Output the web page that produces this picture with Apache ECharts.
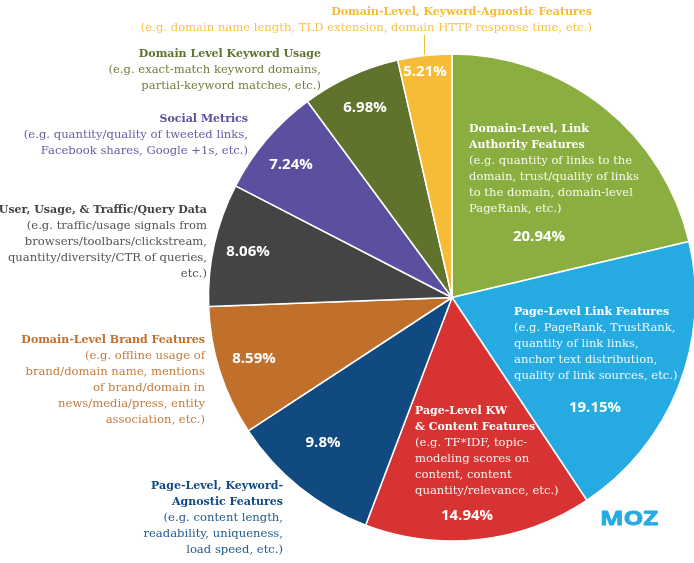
<!DOCTYPE html>
<html lang="en">
<head>
    <meta charset="UTF-8">
    <title>Search ranking factors</title>
    <script src="https://cdn.jsdelivr.net/npm/echarts@6/dist/echarts.min.js"></script>
    <style>
        html, body { margin: 0; padding: 0; background: #fff; }
        #main { width: 694px; height: 563px; }
    </style>
</head>
<body>
<div id="main"></div>
<script type="text/javascript">
// slice names, printed percentages and slice sizes as measured from the drawn wedges
// (the printed numbers add up to 100.91 and do not match the wedges exactly)
var names = ['Domain-Level, Link Authority', 'Page-Level Link', 'Page-Level KW & Content', 'Page-Level, Keyword-Agnostic',
    'Domain-Level Brand', 'User, Usage, & Traffic/Query', 'Social Metrics', 'Domain Level Keyword Usage', 'Domain-Level, Keyword-Agnostic'];
var printed = ['20.94%', '19.15%', '14.94%', '9.8%', '8.59%', '8.06%', '7.24%', '6.98%', '5.21%'];
var shares = [21.3, 19.36, 15.11, 10, 8.64, 8.17, 7.31, 6.53, 3.58];
var colors = ['#8bae41', '#25abe2', '#d73333', '#104a80', '#c0702b', '#444444', '#5b4fa0', '#5f732d', '#f6bc38'];

var titles = [
    ['Domain-Level, Link', 'Authority Features'],
    ['Page-Level Link Features'],
    ['Page-Level KW', '& Content Features'],
    ['Page-Level, Keyword-', 'Agnostic Features'],
    ['Domain-Level Brand Features'],
    ['User, Usage, & Traffic/Query Data'],
    ['Social Metrics'],
    ['Domain Level Keyword Usage'],
    ['Domain-Level, Keyword-Agnostic Features']
];
var details = [
    ['(e.g. quantity of links to the', 'domain, trust/quality of links', 'to the domain, domain-level', 'PageRank, etc.)'],
    ['(e.g. PageRank, TrustRank,', 'quantity of link links,', 'anchor text distribution,', 'quality of link sources, etc.)'],
    ['(e.g. TF*IDF, topic-', 'modeling scores on', 'content, content', 'quantity/relevance, etc.)'],
    ['(e.g. content length,', 'readability, uniqueness,', 'load speed, etc.)'],
    ['(e.g. offline usage of', 'brand/domain name, mentions', 'of brand/domain in', 'news/media/press, entity', 'association, etc.)'],
    ['(e.g. traffic/usage signals from', 'browsers/toolbars/clickstream,', 'quantity/diversity/CTR of queries,', 'etc.)'],
    ['(e.g. quantity/quality of tweeted links,', 'Facebook shares, Google +1s, etc.)'],
    ['(e.g. exact-match keyword domains,', 'partial-keyword matches, etc.)'],
    ['(e.g. domain name length, TLD extension, domain HTTP response time, etc.)']
];

// layout of the texts, in page pixels
var percentPos = [[539, 237], [595, 408], [467, 516], [323, 443], [254, 359], [248, 252], [291, 165], [365, 108], [425, 72]];
var blockPos = [[469, 129], [514, 312], [415, 411], [283, 486], [205, 340], [207, 210], [248, 119], [321, 54], [592, 12]];
var blockAlign = ['left', 'left', 'left', 'right', 'right', 'right', 'right', 'right', 'right'];
var insidePie = [true, true, true, false, false, false, false, false, false];

var lineGap = 16;
var slab = '"DejaVu Serif", serif';

var graphics = [];
names.forEach(function (n, i) {
    var fill = insidePie[i] ? '#fff' : colors[i];
    titles[i].concat(details[i]).forEach(function (line, k) {
        var isTitle = k < titles[i].length;
        graphics.push({
            type: 'text',
            z: 10,
            x: blockPos[i][0],
            y: blockPos[i][1] + k * lineGap,
            style: {
                text: line,
                fill: fill,
                opacity: isTitle ? 1 : 0.92,
                align: blockAlign[i],
                verticalAlign: 'middle',
                font: (isTitle ? 'bold 11px ' : '11.6px ') + slab
            }
        });
    });
});
// leader line of the yellow slice
graphics.push({
    type: 'line',
    z: 10,
    shape: { x1: 424.5, y1: 35, x2: 424.5, y2: 55 },
    style: { stroke: colors[8], lineWidth: 1 }
});
graphics.push({
    type: 'text',
    z: 10,
    x: 629,
    y: 519,
    scaleX: 1.25,
    style: {
        text: 'MOZ',
        fill: '#25abe2',
        stroke: '#25abe2',
        lineWidth: 0.8,
        align: 'center',
        verticalAlign: 'middle',
        font: 'bold 20px "Open Sans", sans-serif'
    }
});

var myChart = echarts.init(document.getElementById('main'));
myChart.setOption({
    animation: false,
    backgroundColor: '#fff',
    graphic: graphics,
    series: [{
        type: 'pie',
        center: [452, 297.5],
        radius: [0, 243.5],
        startAngle: 90,
        clockwise: true,
        z: 1,
        itemStyle: { borderColor: '#fff', borderWidth: 1.5 },
        label: {
            show: true,
            position: 'inside',
            color: '#fff',
            fontFamily: '"Open Sans", sans-serif',
            fontWeight: 'bold',
            fontSize: 15,
            formatter: function (p) { return printed[p.dataIndex]; }
        },
        labelLine: { show: false },
        labelLayout: function (p) {
            return {
                x: percentPos[p.dataIndex][0],
                y: percentPos[p.dataIndex][1],
                align: 'center',
                verticalAlign: 'middle'
            };
        },
        data: shares.map(function (v, i) {
            return { name: names[i], value: v, itemStyle: { color: colors[i] } };
        })
    }]
});
</script>
</body>
</html>
